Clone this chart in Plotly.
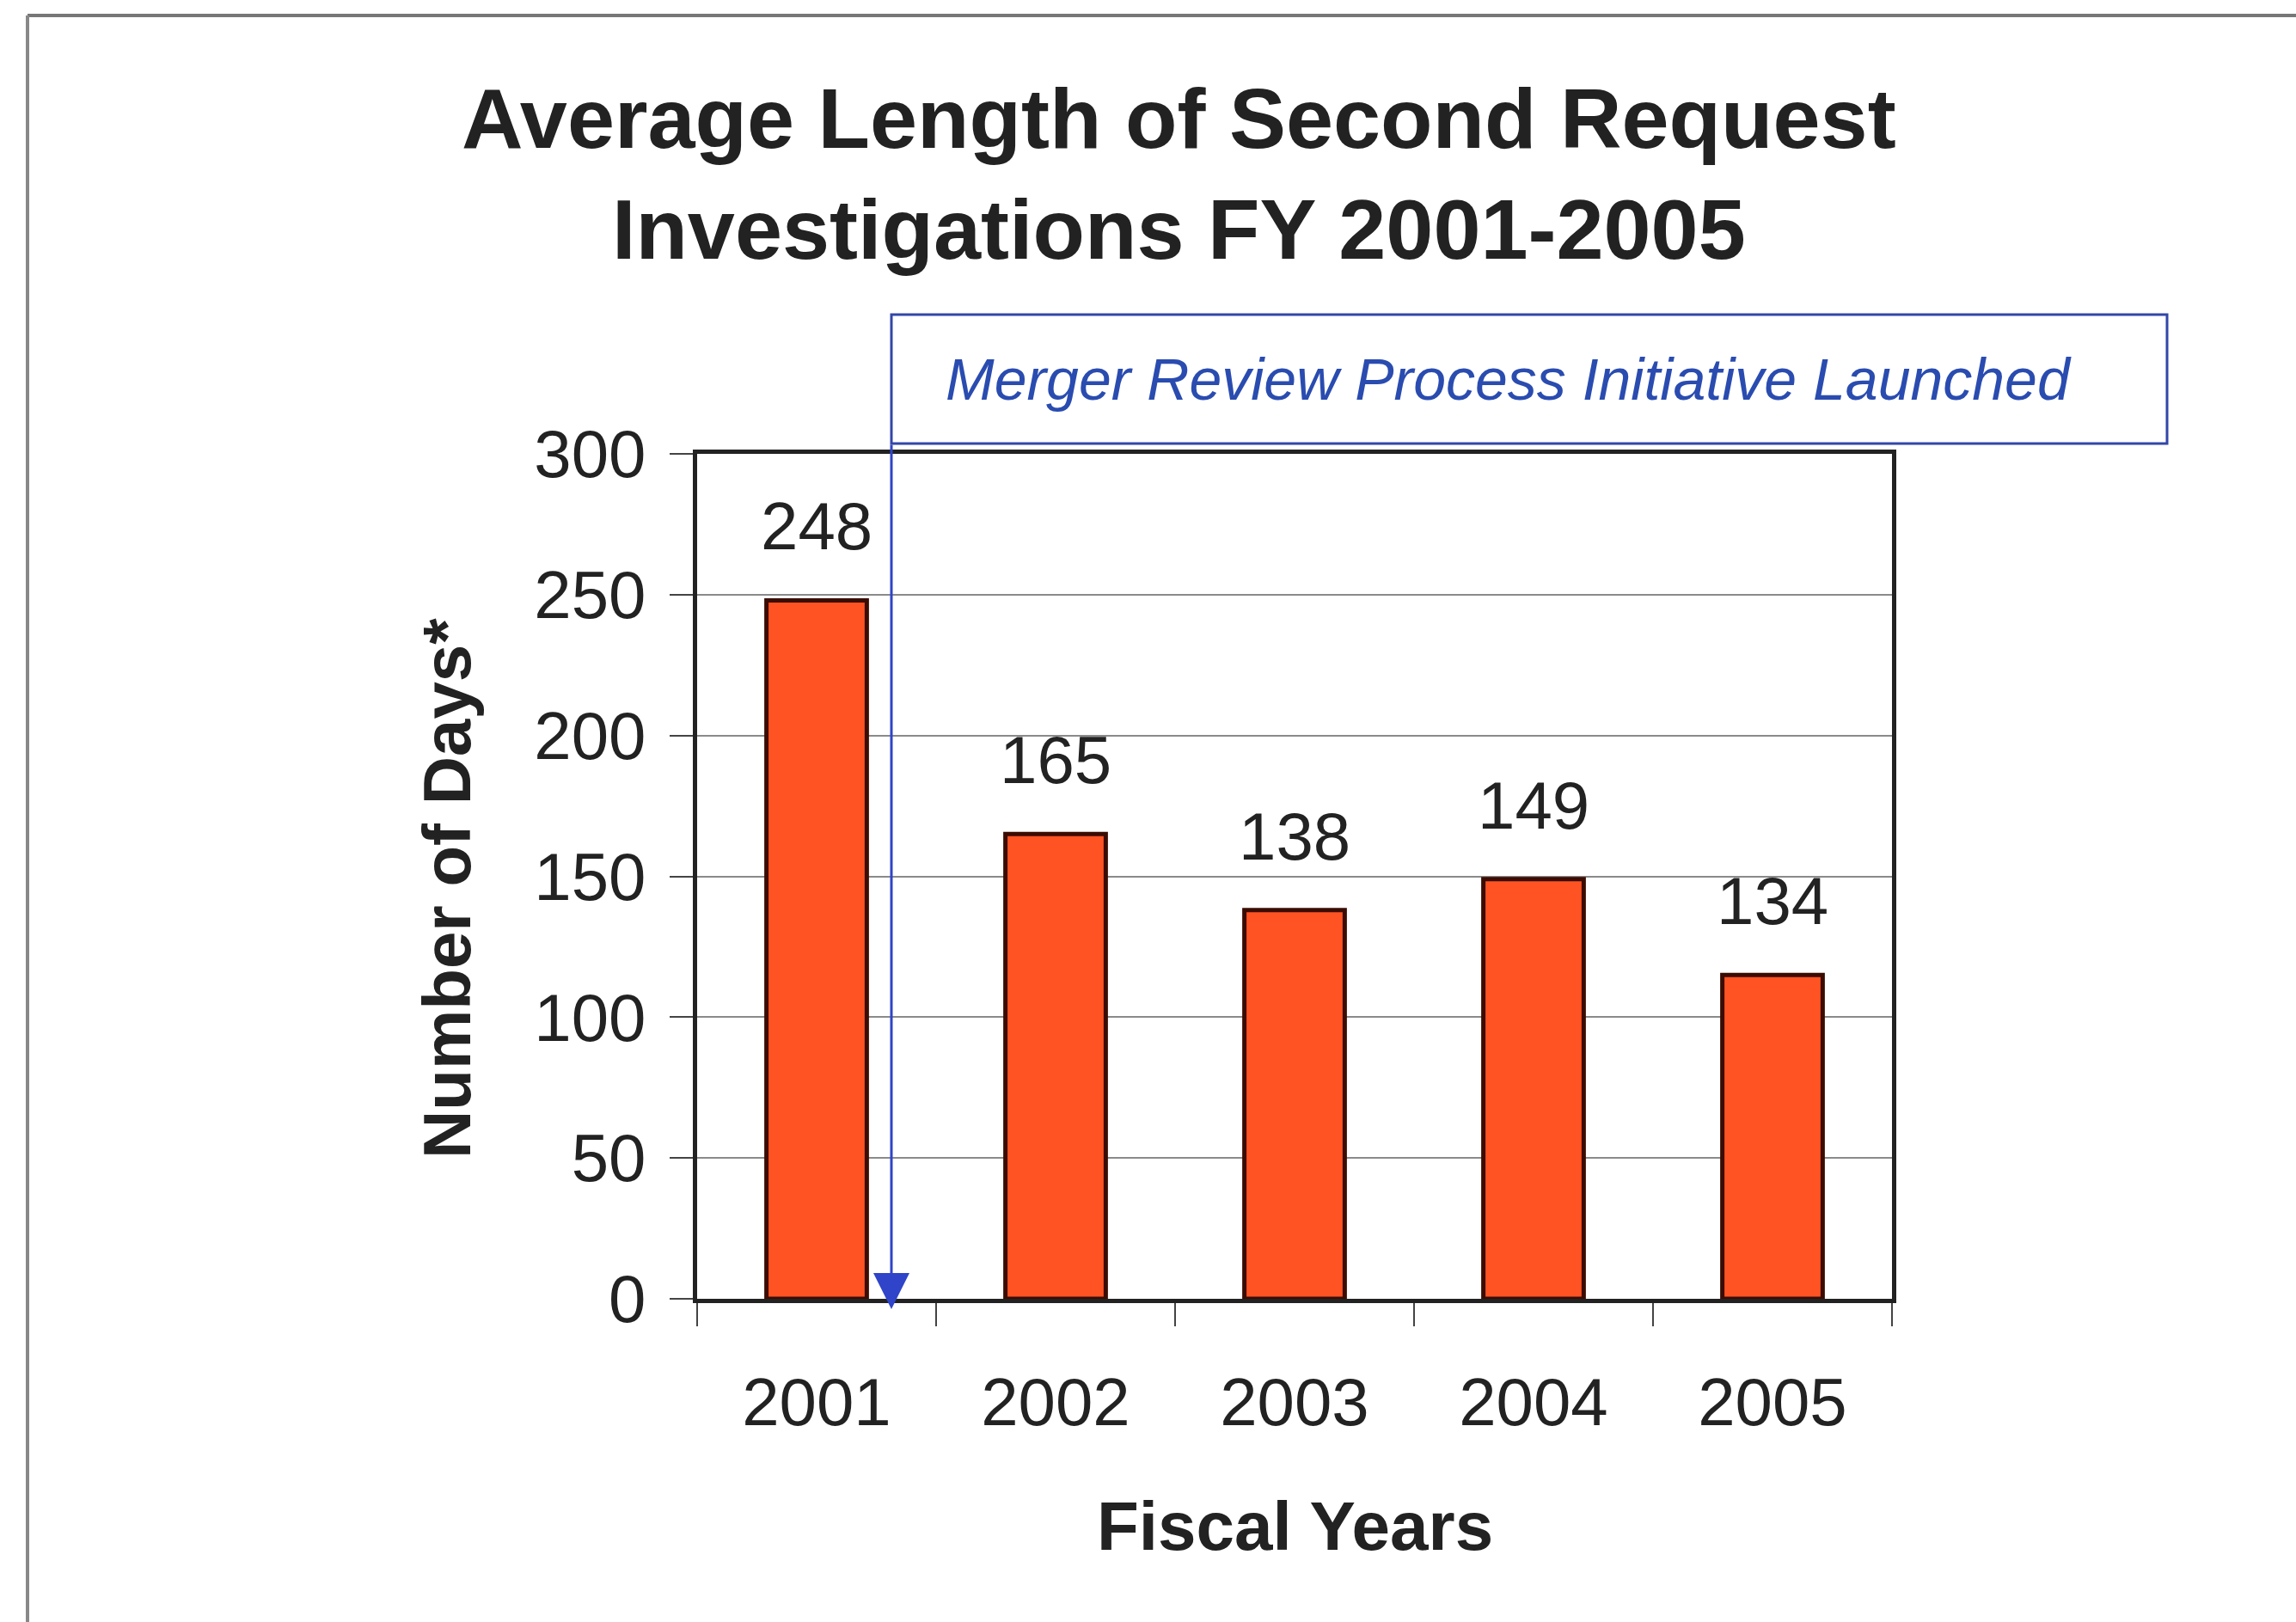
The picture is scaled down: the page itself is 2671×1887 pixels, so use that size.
import plotly.graph_objects as go

# ---- data ----
years = ["2001", "2002", "2003", "2004", "2005"]
days = [248, 165, 138, 149, 115]          # bar heights as drawn
day_labels = ["248", "165", "138", "149", "134"]  # labels as printed
y_ticks = [0, 50, 100, 150, 200, 250, 300]

title_text = "Average Length of Second Request<br>Investigations FY 2001-2005"
note_text = "Merger Review Process Initiative Launched"
x_title = "Fiscal Years"
y_title = "Number of Days*"

W, H = 2671, 1887
L, R, T, B = 811, 2201, 528, 1511   # plot area pixels


def px(xp):
    return (xp - L) / (R - L)


def py(yp):
    return (B - yp) / (B - T)


FONT = "Liberation Sans, Arial, sans-serif"
BAR_COLOR = "#FF5323"
BAR_EDGE = "#3a0c02"
BLUE_LINE = "#3346a8"
BLUE_HEAD = "#2f44c8"
BLUE_TEXT = "#2a4cb0"

fig = go.Figure()
fig.add_trace(go.Bar(
    x=years,
    y=days,
    width=0.42,
    marker=dict(color=BAR_COLOR, line=dict(color=BAR_EDGE, width=5)),
    hoverinfo="skip",
    showlegend=False,
))

annotations = []
for i, (v, lab) in enumerate(zip(days, day_labels)):
    annotations.append(dict(
        x=i, y=v, xref="x", yref="y", text=lab, showarrow=False,
        yanchor="middle", yshift=86,
        font=dict(family=FONT, size=78, color="#222222"),
    ))

# title
annotations.append(dict(
    x=px(1371), y=py(202), xref="paper", yref="paper",
    text="<b>" + title_text.replace("<br>", "</b><br><b>") + "</b>",
    showarrow=False, xanchor="center", yanchor="middle",
    font=dict(family=FONT, size=99, color="#222222"),
))
# axis titles
annotations.append(dict(
    x=0.5, y=py(1775), xref="paper", yref="paper", text="<b>" + x_title + "</b>",
    showarrow=False, xanchor="center", yanchor="middle",
    font=dict(family=FONT, size=80, color="#222222"),
))
annotations.append(dict(
    x=px(520), y=py(1034), xref="paper", yref="paper", text="<b>" + y_title + "</b>",
    showarrow=False, xanchor="center", yanchor="middle", textangle=-90,
    font=dict(family=FONT, size=78, color="#222222"),
))
# note text
annotations.append(dict(
    x=px(1755), y=py(441), xref="paper", yref="paper", text="<i>" + note_text + "</i>",
    showarrow=False, xanchor="center", yanchor="middle",
    font=dict(family=FONT, size=68, color=BLUE_TEXT),
))
# arrow (x in category units: 2001 is 0)
arrow_x = (1037 - (L + (R - L) / 10)) / ((R - L) / 5)
annotations.append(dict(
    x=arrow_x, y=py(1523), xref="x", yref="paper",
    ax=0, ay=-(1523 - 516), axref="pixel", ayref="pixel",
    showarrow=True, arrowhead=2, arrowsize=2.8, arrowwidth=3,
    arrowcolor=BLUE_HEAD, text="",
))

shapes = [
    # note box
    dict(type="rect", xref="paper", yref="paper",
         x0=px(1037), x1=px(2521), y0=py(516), y1=py(366),
         line=dict(color=BLUE_LINE, width=3), fillcolor="rgba(0,0,0,0)"),
    # outer frame lines
    dict(type="line", xref="paper", yref="paper",
         x0=px(32), x1=px(2671), y0=py(18), y1=py(18),
         line=dict(color="#777777", width=4)),
    dict(type="line", xref="paper", yref="paper",
         x0=px(32), x1=px(32), y0=py(18), y1=py(1887),
         line=dict(color="#888888", width=4)),
]

fig.update_layout(
    width=W, height=H,
    margin=dict(l=L, r=W - R, t=T, b=H - B),
    paper_bgcolor="white", plot_bgcolor="white",
    annotations=annotations,
    shapes=shapes,
    showlegend=False,
    font=dict(family=FONT, color="#222222"),
)
fig.update_xaxes(
    type="category",
    range=[-0.5, 4.5],
    tickson="boundaries",
    ticks="outside", ticklen=27, tickwidth=2, tickcolor="#444444",
    showline=True, linecolor="#222222", linewidth=5, mirror=True,
    showgrid=False, zeroline=False,
    tickfont=dict(family=FONT, size=78, color="#222222"),
    ticklabelstandoff=48,
)
fig.update_yaxes(
    range=[0, 300],
    tickmode="array", tickvals=y_ticks,
    ticks="outside", ticklen=27, tickwidth=2, tickcolor="#444444",
    showline=True, linecolor="#222222", linewidth=5, mirror=True,
    showgrid=True, gridcolor="#8a8a8a", gridwidth=2, zeroline=False,
    tickfont=dict(family=FONT, size=78, color="#222222"),
    ticklabelstandoff=12,
)

fig.write_html("out.html")
